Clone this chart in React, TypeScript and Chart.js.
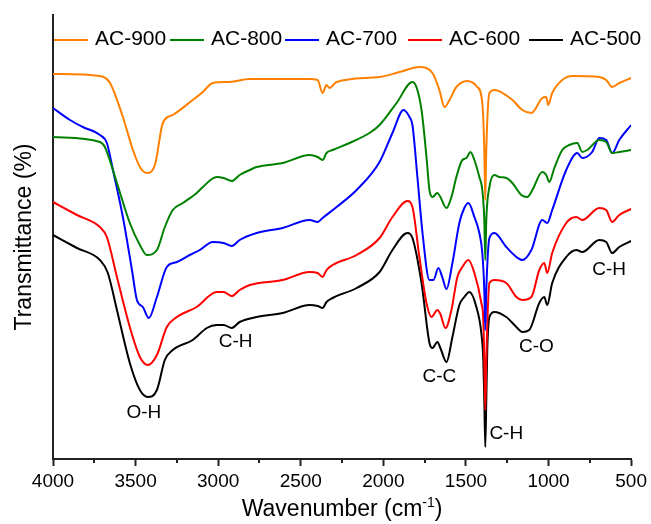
import React, { useEffect, useRef } from 'react';
import { Chart, registerables } from 'chart.js';

Chart.register(...registerables);

// ---------------- Data ----------------
const seriesLabels = ['AC-900', 'AC-800', 'AC-700', 'AC-600', 'AC-500'];
const seriesColors = ['#FF8000', '#008000', '#0000FF', '#FF0000', '#000000'];

const xTickValues = [4000, 3500, 3000, 2500, 2000, 1500, 1000, 500];

const ac900Wn = [4000, 3716, 3655, 3577, 3516, 3474, 3432, 3383, 3335, 3275, 3154, 3093, 3033, 2930, 2809, 2446, 2398, 2368, 2344, 2326, 2283, 2023, 1902, 1782, 1703, 1661, 1630, 1600, 1558, 1492, 1431, 1401, 1389, 1383, 1377, 1358, 1328, 1219, 1159, 1104, 1038, 1014, 1002, 978, 917, 857, 693, 651, 615, 572, 500];
const ac900T = [96.25, 95.75, 94, 85.5, 77.25, 73, 71.5, 73.5, 84, 86, 89.75, 91.75, 94, 94.25, 95, 95, 94.75, 91.5, 93.5, 92.75, 94.25, 95.5, 96.75, 98, 96.5, 92.25, 88, 89.75, 93, 94.5, 93, 89, 77.25, 64.75, 77.25, 91.5, 92.25, 89.75, 87.25, 86.5, 90.25, 90.5, 88.5, 91.5, 94.75, 95.75, 95.5, 94.75, 93, 94, 95.25];

const ac800Wn = [4000, 3716, 3686, 3613, 3535, 3474, 3432, 3371, 3323, 3275, 3214, 3130, 3093, 3009, 2967, 2918, 2870, 2809, 2767, 2610, 2446, 2398, 2368, 2344, 2307, 2205, 2084, 2023, 1920, 1824, 1800, 1769, 1739, 1721, 1703, 1673, 1655, 1618, 1588, 1558, 1522, 1497, 1473, 1449, 1419, 1401, 1389, 1383, 1377, 1358, 1328, 1298, 1256, 1219, 1165, 1129, 1098, 1038, 1014, 996, 965, 917, 875, 826, 796, 766, 693, 651, 615, 572, 500];
const ac800T = [80.5, 79.25, 78, 69, 59, 53.5, 51, 52.25, 58, 62.25, 64, 66.5, 68, 70.5, 70.25, 69.5, 71, 72.25, 73, 74, 76, 75.5, 74.75, 76.5, 77.25, 79, 81.5, 83.5, 89, 94.25, 93, 87.25, 75.5, 67.25, 65.5, 66.5, 65.5, 62.75, 65.5, 70.5, 74.75, 75.25, 76.75, 74.75, 70.5, 67.25, 59.75, 49.75, 59.75, 68, 71, 70.5, 70.25, 69, 66, 65.5, 67.25, 71.75, 71, 69.25, 72.75, 77.25, 78.5, 79, 76.75, 77.25, 79.75, 79.25, 76.5, 76.75, 77.25];

const ac700Wn = [4000, 3897, 3819, 3716, 3674, 3637, 3577, 3522, 3492, 3456, 3420, 3371, 3311, 3250, 3172, 3111, 3033, 2967, 2918, 2870, 2767, 2610, 2446, 2398, 2368, 2283, 2162, 2023, 1945, 1878, 1842, 1824, 1794, 1763, 1721, 1697, 1667, 1642, 1618, 1582, 1540, 1510, 1485, 1449, 1419, 1401, 1389, 1383, 1377, 1358, 1328, 1256, 1195, 1159, 1104, 1038, 1008, 978, 893, 826, 796, 736, 693, 651, 615, 572, 500];
const ac700T = [87.75, 84.75, 83, 81, 79, 72.25, 60.5, 47.25, 39.75, 38, 35.25, 40.5, 48, 49.25, 51, 52.25, 54.25, 54, 53.25, 54.75, 56.5, 57.75, 59.75, 59.25, 60.25, 63, 67.25, 74.25, 81.5, 87.25, 85.5, 83.5, 70.5, 56.5, 44.75, 44.75, 47.75, 45.25, 42.5, 49, 59, 62.75, 64, 60.5, 56.5, 51.5, 42.25, 32.25, 42.25, 55.25, 56.5, 53, 50.5, 49.75, 52.25, 59.75, 59, 62.25, 72.25, 76.5, 75.25, 76.75, 80.25, 79.75, 76.5, 79.75, 83.5];

const ac600Wn = [4000, 3855, 3716, 3674, 3613, 3535, 3474, 3426, 3371, 3311, 3250, 3130, 3009, 2967, 2918, 2870, 2809, 2610, 2446, 2398, 2368, 2344, 2307, 2162, 2023, 1945, 1854, 1824, 1782, 1739, 1709, 1673, 1655, 1624, 1588, 1552, 1522, 1485, 1449, 1407, 1395, 1389, 1383, 1377, 1358, 1328, 1256, 1195, 1159, 1104, 1056, 1026, 1008, 978, 893, 832, 796, 693, 651, 615, 572, 500];
const ac600T = [64.25, 61, 58, 55.5, 45.5, 33, 25.5, 23.5, 26, 33, 35.5, 38, 41.75, 41.75, 40.75, 42.25, 43.5, 44.75, 46.75, 46.5, 45.5, 47.25, 48.5, 51, 55.25, 60.5, 64.5, 63, 50.5, 39, 35.5, 37.25, 36.25, 32.75, 37.25, 45.5, 48, 49.75, 46.5, 39, 34.75, 24.75, 12.25, 24.75, 44, 44.75, 44, 40.5, 39.75, 40.5, 47.25, 49, 46.5, 51.5, 59, 60.5, 59.75, 62.75, 62.25, 59.25, 61, 62.5];

const ac500Wn = [4000, 3855, 3716, 3668, 3613, 3535, 3474, 3426, 3371, 3323, 3275, 3154, 3069, 3009, 2967, 2918, 2870, 2767, 2610, 2446, 2398, 2368, 2344, 2307, 2162, 2023, 1945, 1854, 1824, 1769, 1721, 1703, 1673, 1655, 1618, 1582, 1540, 1510, 1479, 1437, 1407, 1395, 1389, 1383, 1377, 1371, 1358, 1328, 1256, 1195, 1159, 1117, 1056, 1026, 1008, 978, 893, 832, 796, 693, 651, 615, 572, 500];
const ac500T = [56, 52.75, 49.75, 46.5, 37.25, 24, 17.25, 15.5, 17.25, 24.75, 27.25, 29.75, 32.75, 33.5, 33.5, 32.75, 34.25, 35.5, 36.5, 38.5, 38.25, 37.75, 39.25, 40.25, 42.75, 46.75, 52.25, 56.5, 55.25, 44, 29, 27.75, 29.25, 27.75, 24.25, 30.5, 38.5, 40.5, 41.75, 38, 31.5, 24.75, 14.75, 3, 14.75, 27.25, 35.5, 36.75, 35.5, 33, 31.75, 32.25, 39, 40.5, 38.5, 44, 50.5, 52.25, 51.75, 54.75, 54.25, 51.5, 53, 54.5];

const seriesWn = [ac900Wn, ac800Wn, ac700Wn, ac600Wn, ac500Wn];
const seriesT = [ac900T, ac800T, ac700T, ac600T, ac500T];

const annotationText = ['O-H', 'C-H', 'C-C', 'C-H', 'C-O', 'C-H'];
const annotationWn = [3450, 2894, 1661, 1256, 1074, 633];
const annotationT = [11.5, 29.25, 20.5, 6.25, 28, 47.25];

// ---------------- Styling ----------------
const FONT = '"Liberation Sans", Arial, Helvetica, sans-serif';
const AXIS_COLOR = '#222222';
const legendStartX = [54, 170, 285, 408, 529];

const overlayPlugin = {
  id: 'overlay',
  afterDraw(chart: any) {
    const ctx = chart.ctx as CanvasRenderingContext2D;
    const xs = chart.scales.x;
    const ys = chart.scales.y;
    const area = chart.chartArea;
    ctx.save();

    // minor ticks
    ctx.strokeStyle = AXIS_COLOR;
    ctx.lineWidth = 2;
    for (let v = 3750; v > 500; v -= 500) {
      const px = Math.round(xs.getPixelForValue(v));
      ctx.beginPath();
      ctx.moveTo(px, area.bottom);
      ctx.lineTo(px, area.bottom + 4);
      ctx.stroke();
    }

    // legend
    ctx.font = `21px ${FONT}`;
    ctx.textBaseline = 'middle';
    ctx.textAlign = 'left';
    chart.data.datasets.forEach((ds: any, i: number) => {
      const x0 = legendStartX[i];
      ctx.strokeStyle = ds.borderColor;
      ctx.lineWidth = 2;
      ctx.beginPath();
      ctx.moveTo(x0, 40);
      ctx.lineTo(x0 + 34, 40);
      ctx.stroke();
      ctx.fillStyle = '#000';
      ctx.fillText(ds.label, x0 + 41, 39);
    });

    // annotations
    ctx.font = `19px ${FONT}`;
    ctx.textAlign = 'center';
    ctx.textBaseline = 'middle';
    ctx.fillStyle = '#000';
    annotationText.forEach((t, i) => {
      ctx.fillText(t, xs.getPixelForValue(annotationWn[i]), ys.getPixelForValue(annotationT[i]));
    });

    // x title with superscript
    const main = 'Wavenumber (cm';
    const sup = '-1';
    const close = ')';
    ctx.font = `23px ${FONT}`;
    const w1 = ctx.measureText(main).width;
    const w3 = ctx.measureText(close).width;
    ctx.font = `14px ${FONT}`;
    const w2 = ctx.measureText(sup).width;
    const total = w1 + w2 + w3;
    const cx = (area.left + area.right) / 2;
    let x = cx - total / 2;
    const baseY = 516;
    ctx.textAlign = 'left';
    ctx.textBaseline = 'alphabetic';
    ctx.font = `23px ${FONT}`;
    ctx.fillText(main, x, baseY);
    x += w1;
    ctx.font = `14px ${FONT}`;
    ctx.fillText(sup, x, baseY - 9);
    x += w2;
    ctx.font = `23px ${FONT}`;
    ctx.fillText(close, x, baseY);

    // y title
    ctx.translate(31, (area.top + area.bottom) / 2);
    ctx.rotate(-Math.PI / 2);
    ctx.textAlign = 'center';
    ctx.textBaseline = 'alphabetic';
    ctx.font = `23px ${FONT}`;
    ctx.fillText('Transmittance (%)', 0, 0);

    ctx.restore();
  },
};

export default function App() {
  const canvasRef = useRef<HTMLCanvasElement | null>(null);

  useEffect(() => {
    if (!canvasRef.current) return;
    const datasets = seriesLabels.map((label, i) => ({
      label,
      data: seriesWn[i].map((w, j) => ({ x: w, y: seriesT[i][j] })),
      borderColor: seriesColors[i],
      backgroundColor: seriesColors[i],
      borderWidth: 2,
      pointRadius: 0,
      fill: false,
      cubicInterpolationMode: 'monotone' as const,
    }));

    const chart = new Chart(canvasRef.current, {
      type: 'line',
      data: { datasets },
      options: {
        animation: false,
        responsive: false,
        maintainAspectRatio: false,
        layout: { padding: { top: 15, right: 19, left: 0, bottom: 0 } },
        plugins: {
          legend: { display: false },
          tooltip: { enabled: false },
          title: { display: false },
        },
        scales: {
          x: {
            type: 'linear',
            reverse: true,
            min: 500,
            max: 4000,
            afterBuildTicks: (scale: any) => {
              scale.ticks = xTickValues.map((v) => ({ value: v }));
            },
            afterFit: (scale: any) => {
              scale.height = 65;
            },
            ticks: {
              color: '#000',
              font: { family: FONT, size: 19 },
              padding: 4,
              maxRotation: 0,
              autoSkip: false,
              callback: (v: any) => String(v),
            },
            grid: {
              display: true,
              drawOnChartArea: false,
              drawTicks: true,
              tickLength: 7,
              tickWidth: 2,
              tickColor: AXIS_COLOR,
            },
            border: { display: true, color: AXIS_COLOR, width: 2 },
            title: { display: false },
          },
          y: {
            type: 'linear',
            min: 0,
            max: 111,
            afterFit: (scale: any) => {
              scale.width = 53;
            },
            ticks: { display: false },
            grid: { display: false, drawTicks: false },
            border: { display: true, color: AXIS_COLOR, width: 2 },
            title: { display: false },
          },
        },
      },
      plugins: [overlayPlugin],
    });
    return () => chart.destroy();
  }, []);

  return (
    <div style={{ position: 'fixed', left: 0, top: 0, width: 651, height: 524, background: '#fff' }}>
      <canvas ref={canvasRef} width={651} height={524} style={{ width: 651, height: 524 }} />
    </div>
  );
}
